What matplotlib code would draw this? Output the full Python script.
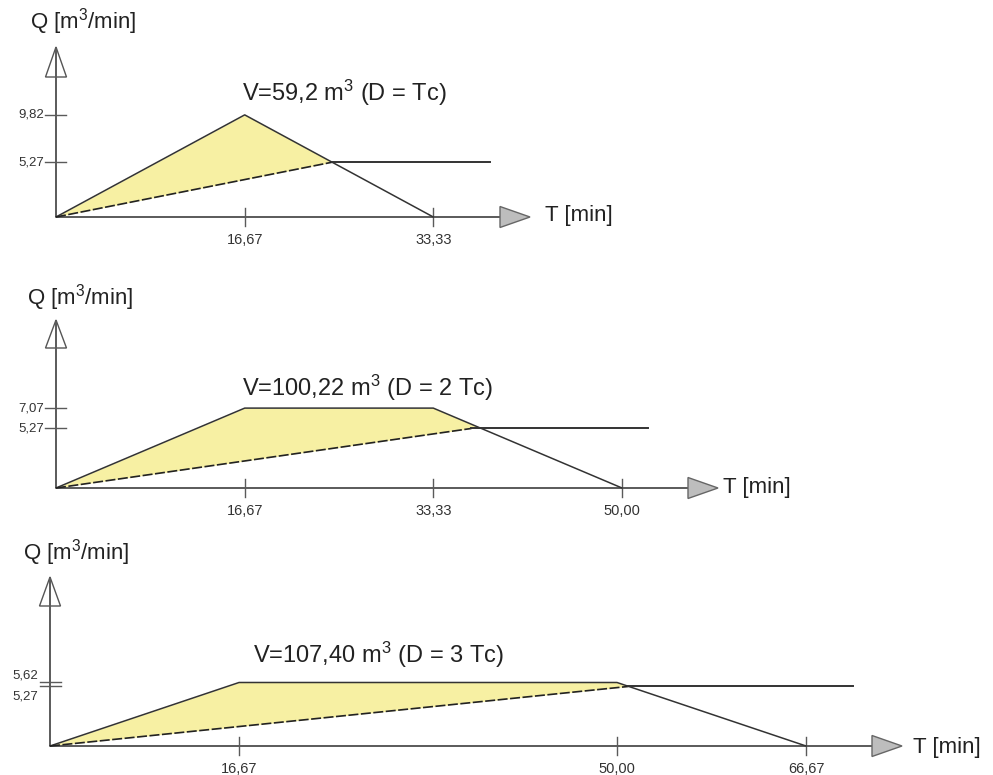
import numpy as np
import matplotlib
matplotlib.use("Agg")
import matplotlib.pyplot as plt
from matplotlib.patches import Polygon

plt.rcParams['font.family'] = ['Liberation Sans', 'DejaVu Sans']
plt.rcParams['mathtext.default'] = 'regular'

# ---------------- data ----------------
titles = ["V=59,2 m$^3$ (D = Tc)", "V=100,22 m$^3$ (D = 2 Tc)", "V=107,40 m$^3$ (D = 3 Tc)"]

t_in_1 = [0, 16.67, 33.33]
q_in_1 = [0, 9.82, 0]
t_out_1 = [0, 24.4, 38.3]
q_out_1 = [0, 5.27, 5.27]

t_in_2 = [0, 16.67, 33.33, 50.00]
q_in_2 = [0, 7.07, 7.07, 0]
t_out_2 = [0, 36.7, 52.3]
q_out_2 = [0, 5.27, 5.27]

t_in_3 = [0, 16.67, 50.00, 66.67]
q_in_3 = [0, 5.62, 5.62, 0]
t_out_3 = [0, 51.0, 70.8]
q_out_3 = [0, 5.27, 5.27]

xticks_1 = [16.67, 33.33]
xticks_2 = [16.67, 33.33, 50.00]
xticks_3 = [16.67, 50.00, 66.67]
xlabels_1 = ["16,67", "33,33"]
xlabels_2 = ["16,67", "33,33", "50,00"]
xlabels_3 = ["16,67", "50,00", "66,67"]
yticks_1 = [9.82, 5.27]
yticks_2 = [7.07, 5.27]
yticks_3 = [5.62, 5.27]
ylabels_1 = ["9,82", "5,27"]
ylabels_2 = ["7,07", "5,27"]
ylabels_3 = ["5,62", "5,27"]

# ---------------- layout (pixels) ----------------
W, H = 993, 775
fig = plt.figure(figsize=(W / 100, H / 100), dpi=100)

panels = [
    dict(t_in=t_in_1, q_in=q_in_1, t_out=t_out_1, q_out=q_out_1, xt=xticks_1, xl=xlabels_1,
         yt=yticks_1, yl=ylabels_1, title=titles[0],
         band=(0, 260), ox=56, oy=217, sx=11.32, sy=10.4,
         xbase=500, xtip=530, ybase=77, ytip=47,
         q_pos=(30, 22), t_pos=(545, 215), title_pos=(242, 93), ylab_off=[0, 0]),
    dict(t_in=t_in_2, q_in=q_in_2, t_out=t_out_2, q_out=q_out_2, xt=xticks_2, xl=xlabels_2,
         yt=yticks_2, yl=ylabels_2, title=titles[1],
         band=(260, 530), ox=56, oy=488, sx=11.32, sy=11.3,
         xbase=688, xtip=718, ybase=348, ytip=320,
         q_pos=(27, 298), t_pos=(723, 487), title_pos=(242, 388), ylab_off=[0, 0]),
    dict(t_in=t_in_3, q_in=q_in_3, t_out=t_out_3, q_out=q_out_3, xt=xticks_3, xl=xlabels_3,
         yt=yticks_3, yl=ylabels_3, title=titles[2],
         band=(530, 775), ox=50, oy=746, sx=11.34, sy=11.3,
         xbase=872, xtip=902, ybase=606, ytip=577,
         q_pos=(23, 553), t_pos=(913, 747), title_pos=(253, 655), ylab_off=[7, -10]),
]

AX_COL = '#5a5a5a'
LINE_COL = '#333333'
FILL_COL = '#F7F0A3'
PX2PT = 72 / 100

for p in panels:
    top, bot = p['band']
    ax = fig.add_axes([0, 1 - bot / H, 1, (bot - top) / H])
    ox, oy, sx, sy = p['ox'], p['oy'], p['sx'], p['sy']
    ax.set_xlim(-ox / sx, (W - ox) / sx)
    ax.set_ylim((oy - bot) / sy, (oy - top) / sy)
    ax.axis('off')

    # axes
    xb = (p['xbase'] - ox) / sx
    xtp = (p['xtip'] - ox) / sx
    yb = (oy - p['ybase']) / sy
    ytp = (oy - p['ytip']) / sy
    ax.plot([0, xb], [0, 0], color=AX_COL, lw=1.4, zorder=3, solid_capstyle='butt')
    ax.plot([0, 0], [0, ytp], color=AX_COL, lw=1.4, zorder=3, solid_capstyle='butt')
    hw_y = 10.5 / sy
    ax.add_patch(Polygon([[xb, -hw_y], [xb, hw_y], [xtp, 0]], closed=True,
                         facecolor='#BDBDBD', edgecolor='#666666', lw=1.0, zorder=4))
    hw_x = 10.5 / sx
    ax.add_patch(Polygon([[-hw_x, yb], [hw_x, yb], [0, ytp]], closed=True,
                         facecolor='white', edgecolor='#555555', lw=1.0, zorder=2))

    # ticks
    for t, lab in zip(p['xt'], p['xl']):
        ax.plot([t, t], [-9 / sy, 9 / sy], color=AX_COL, lw=1.0, zorder=3)
        ax.annotate(lab, xy=(t, 0), xytext=(0, -23 * PX2PT), textcoords='offset points',
                    ha='center', va='center', fontsize=10.5, color='#333333')
    for (v, lab), off in zip(zip(p['yt'], p['yl']), p['ylab_off']):
        ax.plot([-10.5 / sx, 10.5 / sx], [v, v], color=AX_COL, lw=1.0, zorder=3)
        ax.annotate(lab, xy=(0, v), xytext=(-12 * PX2PT, off * PX2PT), textcoords='offset points',
                    ha='right', va='center', fontsize=9.5, color='#333333')

    # fill between inflow and outflow
    tg = np.linspace(0, p['t_in'][-1], 2000)
    qi = np.interp(tg, p['t_in'], p['q_in'])
    qo = np.interp(tg, p['t_out'], p['q_out'])
    ax.fill_between(tg, qo, qi, where=qi >= qo, interpolate=True, color=FILL_COL, lw=0, zorder=1)

    # inflow hydrograph
    ax.plot(p['t_in'], p['q_in'], color=LINE_COL, lw=1.1, zorder=5)
    # outflow
    ax.plot(p['t_out'][:2], p['q_out'][:2], color='#222222', lw=1.2, ls=(0, (6, 1.5)), zorder=5)
    ax.plot(p['t_out'][1:], p['q_out'][1:], color='#333333', lw=1.4, zorder=5)

    # texts
    fig.text(p['q_pos'][0] / W, 1 - p['q_pos'][1] / H, "Q [m$^3$/min]", ha='left', va='center',
             fontsize=16, color='#222222')
    fig.text(p['t_pos'][0] / W, 1 - p['t_pos'][1] / H, "T [min]", ha='left', va='center',
             fontsize=16, color='#222222')
    fig.text(p['title_pos'][0] / W, 1 - p['title_pos'][1] / H, p['title'], ha='left', va='center',
             fontsize=17, color='#222222')

fig.savefig('out.png', dpi=100, facecolor='white')
